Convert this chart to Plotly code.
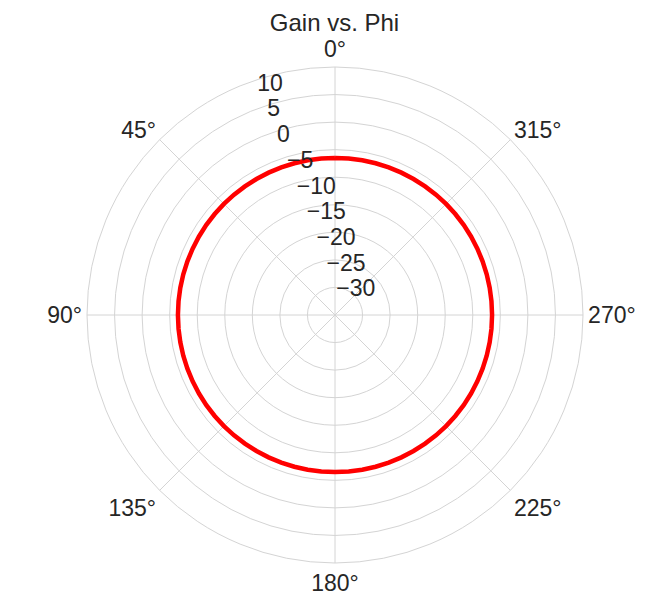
import plotly.graph_objects as go

# Data (constant gain of about -6.5 dB)
phi_deg = [0, 5, 10, 15, 20, 25, 30, 35, 40, 45, 50, 55, 60, 65, 70, 75, 80, 85, 90,
           95, 100, 105, 110, 115, 120, 125, 130, 135, 140, 145, 150, 155, 160, 165, 170, 175, 180,
           185, 190, 195, 200, 205, 210, 215, 220, 225, 230, 235, 240, 245, 250, 255, 260, 265, 270,
           275, 280, 285, 290, 295, 300, 305, 310, 315, 320, 325, 330, 335, 340, 345, 350, 355, 360]
gain_db = [-6.5, -6.5, -6.5, -6.5, -6.5, -6.5, -6.5, -6.5, -6.5, -6.5, -6.5, -6.5, -6.5,
           -6.5, -6.5, -6.5, -6.5, -6.5, -6.5, -6.5, -6.5, -6.5, -6.5, -6.5, -6.5, -6.5,
           -6.5, -6.5, -6.5, -6.5, -6.5, -6.5, -6.5, -6.5, -6.5, -6.5, -6.5, -6.5, -6.5,
           -6.5, -6.5, -6.5, -6.5, -6.5, -6.5, -6.5, -6.5, -6.5, -6.5, -6.5, -6.5, -6.5,
           -6.5, -6.5, -6.5, -6.5, -6.5, -6.5, -6.5, -6.5, -6.5, -6.5, -6.5, -6.5, -6.5,
           -6.5, -6.5, -6.5, -6.5, -6.5, -6.5, -6.5, -6.5]
radial_ticks = [-30, -25, -20, -15, -10, -5, 0, 5, 10]
angle_ticks = [0, 45, 90, 135, 180, 225, 270, 315]

TXT = "#262626"
GRID = "#d4d4d4"
FONT = "Liberation Sans, Arial, sans-serif"

fig = go.Figure()
fig.add_trace(go.Scatterpolar(
    r=gain_db, theta=phi_deg, mode="lines",
    line=dict(color="#ff0000", width=4.5),
    showlegend=False, hoverinfo="skip",
))

fig.update_layout(
    width=653, height=597,
    margin=dict(l=79, r=78, t=59, b=42),
    paper_bgcolor="white",
    font=dict(family=FONT, color=TXT, size=23),
    title=dict(text="Gain vs. Phi", x=0.5, xref="container", xanchor="center",
               y=0.975, yref="container", yanchor="middle",
               font=dict(size=24, color=TXT, family=FONT)),
    polar=dict(
        bgcolor="white",
        domain=dict(x=[0, 1], y=[0, 1]),
        angularaxis=dict(
            rotation=90, direction="counterclockwise",
            tickmode="array", tickvals=angle_ticks,
            ticktext=[f"{a}°" for a in angle_ticks],
            showgrid=True, gridcolor=GRID, gridwidth=1,
            showline=True, linecolor=GRID, linewidth=1,
            ticks="", tickfont=dict(size=23, color=TXT),
        ),
        radialaxis=dict(
            range=[-35, 10], tickmode="array", tickvals=radial_ticks,
            ticktext=[str(v).replace("-", "\u2212") for v in radial_ticks],
            showgrid=True, gridcolor=GRID, gridwidth=1,
            showline=False, ticks="", angle=111, tickangle=111,
            side="clockwise",
            tickfont=dict(size=23, color=TXT),
        ),
    ),
)

fig.write_html("out.html")
